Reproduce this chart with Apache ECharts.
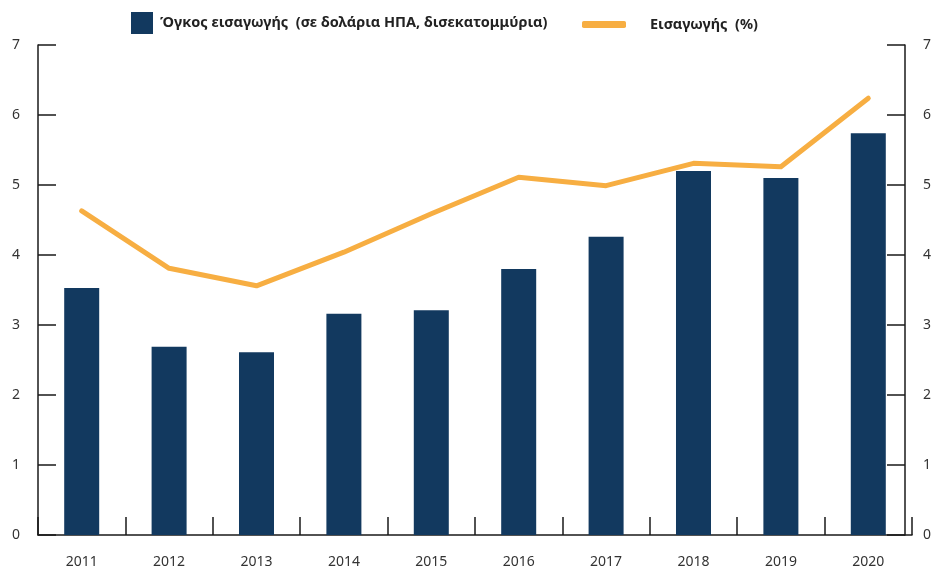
<!DOCTYPE html>
<html>
<head>
<meta charset="utf-8">
<script src="https://cdn.jsdelivr.net/npm/echarts@6/dist/echarts.min.js"></script>
<style>
  html, body { margin: 0; padding: 0; background: #fff; }
  #chart { width: 934px; height: 571px; }
</style>
</head>
<body>
<div id="chart"></div>
<script>
// data
const years = ['2011', '2012', '2013', '2014', '2015', '2016', '2017', '2018', '2019', '2020'];
const importVolume = [3.53, 2.69, 2.61, 3.16, 3.21, 3.80, 4.26, 5.20, 5.10, 5.74];
const importShare = [4.63, 3.81, 3.56, 4.04, 4.59, 5.11, 4.99, 5.31, 5.26, 6.24];

const barName = 'Όγκος εισαγωγής  (σε δολάρια ΗΠΑ, δισεκατομμύρια)';
const lineName = 'Εισαγωγής  (%)';

const navy = '#12395f';
const orange = '#f7ae42';
const font = 'Noto Sans';

const chart = echarts.init(document.getElementById('chart'));

// y axis shared style
function valueAxis(pos, offset) {
  return {
    type: 'value',
    position: pos,
    offset: offset,
    min: 0,
    max: 7,
    interval: 1,
    axisLine: { show: true, lineStyle: { color: '#1a1a1a', width: 1.5 } },
    axisTick: { show: true, inside: true, length: 18, lineStyle: { color: '#1a1a1a', width: 1.5 } },
    axisLabel: { color: '#333', fontSize: 14, fontFamily: font, margin: 18 },
    splitLine: { show: false }
  };
}

chart.setOption({
  animation: false,
  textStyle: { fontFamily: font },
  grid: { left: 38, right: 22, top: 45, bottom: 36 },
  legend: [{
    left: 126, top: 7,
    itemWidth: 22, itemHeight: 22,
    icon: 'rect',
    data: [barName],
    textStyle: { fontSize: 14.5, fontWeight: 'bold', color: '#222', fontFamily: font, padding: [2, 0, 0, 2] }
  }, {
    left: 577, top: 12,
    itemWidth: 44, itemHeight: 7,
    icon: 'roundRect',
    data: [lineName],
    textStyle: { fontSize: 14.5, fontWeight: 'bold', color: '#222', fontFamily: font, padding: [0, 0, 0, 19] }
  }],
  xAxis: {
    type: 'category',
    data: years,
    axisLine: { lineStyle: { color: '#1a1a1a', width: 1.5 } },
    axisTick: { show: true, inside: true, length: 18, lineStyle: { color: '#1a1a1a', width: 1.5 } },
    axisLabel: { color: '#333', fontSize: 14, fontFamily: font, margin: 20 }
  },
  yAxis: [valueAxis('left', 0), valueAxis('right', -7)],
  series: [{
    name: barName,
    type: 'bar',
    data: importVolume,
    barWidth: 35,
    itemStyle: { color: navy }
  }, {
    name: lineName,
    type: 'line',
    data: importShare,
    symbol: 'none',
    lineStyle: { color: orange, width: 5, cap: 'round', join: 'round' },
    itemStyle: { color: orange }
  }]
});
</script>
</body>
</html>
